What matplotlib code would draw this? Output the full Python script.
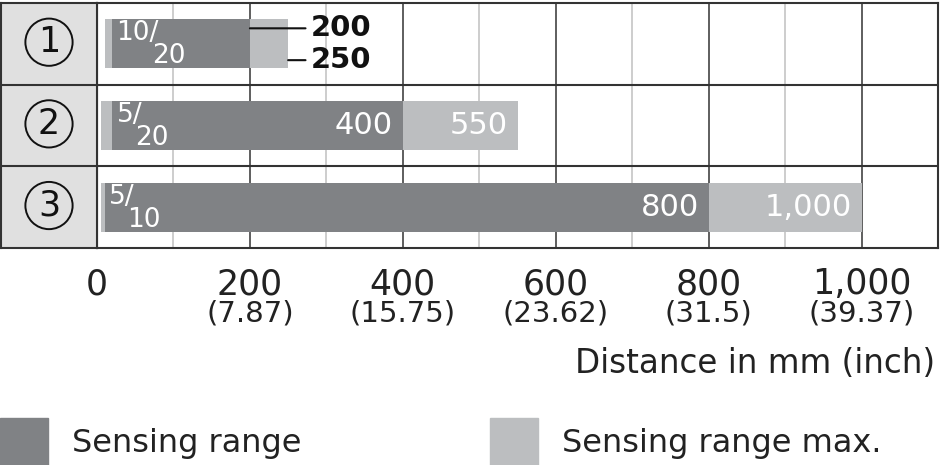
import matplotlib.pyplot as plt
from matplotlib.patches import Patch

plt.rcParams['font.family'] = ['DejaVu Sans', 'Noto Sans CJK JP']

# Data
rows = ["1", "2", "3"]          # drawn as circled numbers
max_start = [10, 5, 5]          # start of max. sensing range (mm)
range_start = [20, 20, 10]      # start of sensing range (mm)
range_end = [200, 400, 800]     # sensing range (mm)
max_end = [250, 550, 1000]      # sensing range max. (mm)
tick_mm = [0, 200, 400, 600, 800, 1000]
tick_labels = ["0", "200", "400", "600", "800", "1,000"]
inch_labels = ["", "(7.87)", "(15.75)", "(23.62)", "(31.5)", "(39.37)"]

dark = '#808285'
light = '#bcbec0'
cell = '#e0e0e0'
line_dark = '#333333'
line_light = '#c0c0c0'
txt = '#222222'

W, H = 940, 465
fig = plt.figure(figsize=(W / 100, H / 100), dpi=100)


def px_rect(x0, y0, x1, y1):
    return [x0 / W, 1 - y1 / H, (x1 - x0) / W, (y1 - y0) / H]


ax = fig.add_axes(px_rect(97, 3, 938, 248))
lab = fig.add_axes(px_rect(1, 3, 97, 248))

ypos = [i + 0.5 for i in range(len(rows))]

# row label column
lab.set_facecolor(cell)
lab.set_xlim(0, 1)
lab.set_ylim(len(rows), 0)
lab.set_xticks([])
lab.set_yticks([])
for y in range(1, len(rows)):
    lab.axhline(y, color=line_dark, lw=1.5)
lab.scatter([0.5] * len(rows), [y - 0.02 for y in ypos], s=34 ** 2, marker='o',
            facecolors='none', edgecolors='#111111', linewidths=1.4, zorder=3)
for y, r in zip(ypos, rows):
    lab.text(0.5, y - 0.02, r, ha='center', va='center', fontsize=25,
             color='#111111', zorder=4)
for s in lab.spines.values():
    s.set_color(line_dark)
    s.set_linewidth(1.5)

# bars
ax.set_xlim(0, 1100)
ax.set_ylim(len(rows), 0)
ax.barh(ypos, [e - s for s, e in zip(max_start, max_end)], left=max_start,
        height=0.6, color=light, zorder=3)
ax.barh(ypos, [e - s for s, e in zip(range_start, range_end)], left=range_start,
        height=0.6, color=dark, zorder=4)

# grid
ax.set_xticks(tick_mm)
ax.set_xticks([t + 100 for t in tick_mm], minor=True)
ax.grid(which='major', axis='x', color=line_dark, lw=1.1, zorder=1)
ax.grid(which='minor', axis='x', color=line_light, lw=1.1, zorder=1)
for y in range(1, len(rows)):
    ax.axhline(y, color=line_dark, lw=1.5, zorder=2)
ax.set_yticks([])
ax.set_xticklabels(tick_labels, fontsize=25, color=txt)
ax.tick_params(axis='x', which='both', length=0, pad=14)
for s in ax.spines.values():
    s.set_color(line_dark)
    s.set_linewidth(1.5)

for x, lbl in zip(tick_mm, inch_labels):
    ax.annotate(lbl, xy=(x, 0), xycoords=('data', 'axes fraction'),
                xytext=(0, -53), textcoords='offset points',
                ha='center', va='baseline', fontsize=21, color=txt)

ax.annotate("Distance in mm (inch)", xy=(1, 0), xycoords='axes fraction',
            xytext=(-2, -90), textcoords='offset points',
            ha='right', va='baseline', fontsize=23.5, color=txt)

# bar texts
for i, y in enumerate(ypos):
    num = ax.annotate(f"{max_start[i]}/", xy=(range_start[i], y - 0.13),
                      xytext=(3, 0), textcoords='offset points',
                      ha='left', va='center', fontsize=19, color='white', zorder=6)
    ax.annotate(f"{range_start[i]}", xy=(1, 0), xycoords=num,
                xytext=(-5, 2), textcoords='offset points',
                ha='left', va='top', fontsize=19, color='white', zorder=6)
    if i == 0:
        label_x = max_end[i] + 30
        ax.annotate(f"{range_end[i]:,}", xy=(range_end[i], y - 0.19),
                    xytext=(label_x, y - 0.19), ha='left', va='center',
                    fontsize=21, fontweight='bold', color='#111111', zorder=6,
                    arrowprops=dict(arrowstyle='-', color='#111111', lw=1.5,
                                    shrinkA=2, shrinkB=0, relpos=(0, 0.5)))
        ax.annotate(f"{max_end[i]:,}", xy=(max_end[i], y + 0.2),
                    xytext=(label_x, y + 0.2), ha='left', va='center',
                    fontsize=21, fontweight='bold', color='#111111', zorder=6,
                    arrowprops=dict(arrowstyle='-', color='#111111', lw=1.5,
                                    shrinkA=2, shrinkB=0, relpos=(0, 0.5)))
    else:
        ax.annotate(f"{range_end[i]:,}", xy=(range_end[i], y),
                    xytext=(-7, 0), textcoords='offset points',
                    ha='right', va='center', fontsize=22, color='white', zorder=6)
        ax.annotate(f"{max_end[i]:,}", xy=(max_end[i], y),
                    xytext=(-7, 0), textcoords='offset points',
                    ha='right', va='center', fontsize=22, color='white', zorder=6)

# legend
handles = [Patch(color=dark, label="Sensing range"),
           Patch(color=light, label="Sensing range max.")]
leg = fig.legend(handles=handles, loc='lower left', bbox_to_anchor=(0, 0), ncol=2,
                 frameon=False, fontsize=23, handlelength=1.5, handleheight=1.9,
                 handletextpad=0.75, columnspacing=5.9, borderpad=0, borderaxespad=0)
for t in leg.get_texts():
    t.set_color(txt)

fig.savefig('out.png', dpi=100)
